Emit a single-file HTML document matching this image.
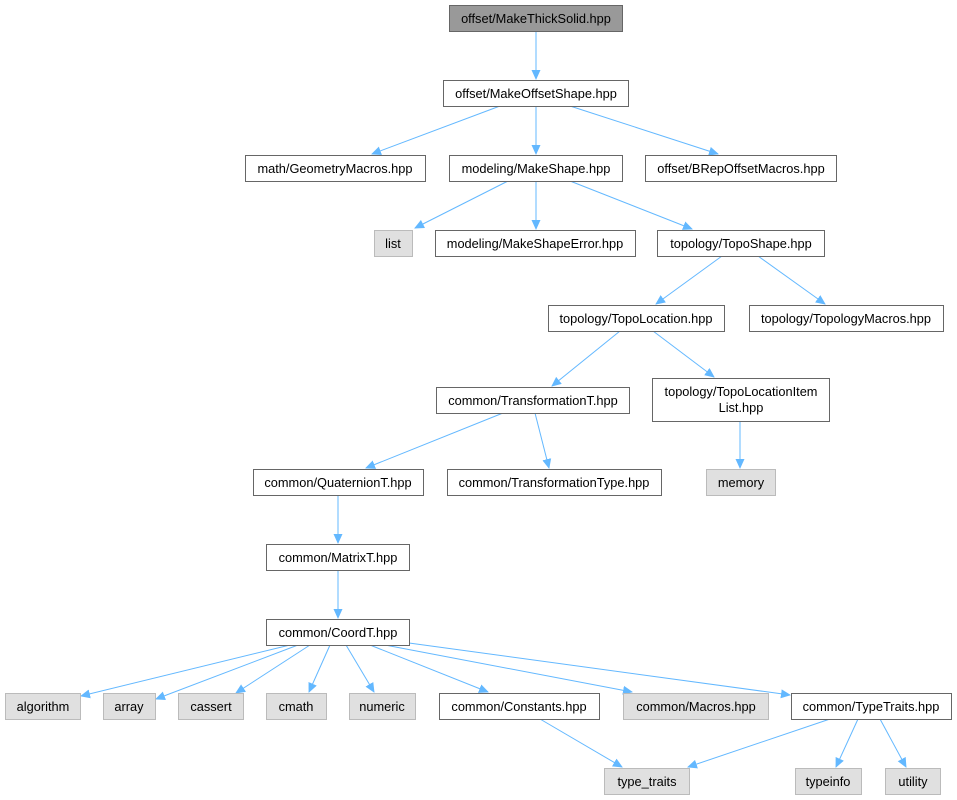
<!DOCTYPE html>
<html><head><meta charset="utf-8"><style>
html,body{margin:0;padding:0;background:#fff;width:957px;height:800px;overflow:hidden}
text{font-family:"Liberation Sans",Arial,sans-serif;font-size:12.8px;fill:#000}
</style></head><body>
<svg width="957" height="800" viewBox="0 0 957 800" xmlns="http://www.w3.org/2000/svg">
<defs><marker id="a" markerWidth="10" markerHeight="10" refX="9" refY="5" orient="auto" markerUnits="userSpaceOnUse"><path d="M0,0.5 L10,5 L0,9.5 z" fill="#63b8ff"/></marker></defs>
<g stroke="#63b8ff" stroke-width="1" fill="none" marker-end="url(#a)">
<line x1="536" y1="31" x2="536" y2="79"/>
<line x1="500" y1="106" x2="372" y2="154"/>
<line x1="536" y1="106" x2="536" y2="154"/>
<line x1="570" y1="106" x2="718" y2="154"/>
<line x1="508" y1="181" x2="415" y2="228"/>
<line x1="536" y1="181" x2="536" y2="229"/>
<line x1="570" y1="181" x2="692" y2="229"/>
<line x1="722" y1="256" x2="656" y2="304"/>
<line x1="758" y1="256" x2="825" y2="304"/>
<line x1="620" y1="331" x2="552" y2="386"/>
<line x1="653" y1="331" x2="714" y2="377"/>
<line x1="503" y1="413" x2="366" y2="468"/>
<line x1="535" y1="413" x2="549" y2="468"/>
<line x1="740" y1="421" x2="740" y2="468"/>
<line x1="338" y1="495" x2="338" y2="543"/>
<line x1="338" y1="570" x2="338" y2="618"/>
<line x1="290" y1="645" x2="81" y2="696"/>
<line x1="298" y1="645" x2="156" y2="699"/>
<line x1="310" y1="645" x2="236" y2="693"/>
<line x1="330" y1="645" x2="309" y2="692"/>
<line x1="346" y1="645" x2="374" y2="692"/>
<line x1="370" y1="645" x2="488" y2="692"/>
<line x1="385" y1="645" x2="632" y2="692"/>
<line x1="409" y1="643" x2="790" y2="695"/>
<line x1="540" y1="719" x2="622" y2="767"/>
<line x1="830" y1="719" x2="688" y2="767"/>
<line x1="858" y1="719" x2="836" y2="767"/>
<line x1="880" y1="719" x2="906" y2="767"/>
</g>
<g stroke-width="1">
<rect x="449.5" y="5.5" width="173" height="26" fill="#999" stroke="#666"/>
<g fill="#fff" stroke="#666">
<rect x="443.5" y="80.5" width="185" height="26"/>
<rect x="245.5" y="155.5" width="180" height="26"/>
<rect x="449.5" y="155.5" width="173" height="26"/>
<rect x="645.5" y="155.5" width="191" height="26"/>
<rect x="435.5" y="230.5" width="200" height="26"/>
<rect x="657.5" y="230.5" width="167" height="26"/>
<rect x="548.5" y="305.5" width="176" height="26"/>
<rect x="749.5" y="305.5" width="194" height="26"/>
<rect x="436.5" y="387.5" width="193" height="26"/>
<rect x="652.5" y="378.5" width="177" height="43"/>
<rect x="253.5" y="469.5" width="170" height="26"/>
<rect x="447.5" y="469.5" width="214" height="26"/>
<rect x="266.5" y="544.5" width="143" height="26"/>
<rect x="266.5" y="619.5" width="143" height="26"/>
<rect x="439.5" y="693.5" width="160" height="26"/>
<rect x="791.5" y="693.5" width="160" height="26"/>
</g>
<g fill="#e0e0e0" stroke="#bbb">
<rect x="374.5" y="230.5" width="38" height="26"/>
<rect x="706.5" y="469.5" width="69" height="26"/>
<rect x="5.5" y="693.5" width="75" height="26"/>
<rect x="103.5" y="693.5" width="52" height="26"/>
<rect x="178.5" y="693.5" width="65" height="26"/>
<rect x="266.5" y="693.5" width="60" height="26"/>
<rect x="349.5" y="693.5" width="66" height="26"/>
<rect x="623.5" y="693.5" width="145" height="26"/>
<rect x="604.5" y="768.5" width="85" height="26"/>
<rect x="795.5" y="768.5" width="66" height="26"/>
<rect x="885.5" y="768.5" width="55" height="26"/>
</g></g>
<g text-anchor="middle">
<text x="536" y="23">offset/MakeThickSolid.hpp</text>
<text x="536" y="98">offset/MakeOffsetShape.hpp</text>
<text x="335" y="173">math/GeometryMacros.hpp</text>
<text x="536" y="173">modeling/MakeShape.hpp</text>
<text x="741" y="173">offset/BRepOffsetMacros.hpp</text>
<text x="393" y="248">list</text>
<text x="535" y="248">modeling/MakeShapeError.hpp</text>
<text x="741" y="248">topology/TopoShape.hpp</text>
<text x="636" y="323">topology/TopoLocation.hpp</text>
<text x="846" y="323">topology/TopologyMacros.hpp</text>
<text x="533" y="405">common/TransformationT.hpp</text>
<text x="741" y="396">topology/TopoLocationItem</text>
<text x="741" y="412">List.hpp</text>
<text x="338" y="487">common/QuaternionT.hpp</text>
<text x="554" y="487">common/TransformationType.hpp</text>
<text x="741" y="487">memory</text>
<text x="338" y="562">common/MatrixT.hpp</text>
<text x="338" y="637">common/CoordT.hpp</text>
<text x="43" y="711">algorithm</text>
<text x="129" y="711">array</text>
<text x="211" y="711">cassert</text>
<text x="296" y="711">cmath</text>
<text x="382" y="711">numeric</text>
<text x="519" y="711">common/Constants.hpp</text>
<text x="696" y="711">common/Macros.hpp</text>
<text x="871" y="711">common/TypeTraits.hpp</text>
<text x="647" y="786">type_traits</text>
<text x="828" y="786">typeinfo</text>
<text x="913" y="786">utility</text>
</g>
</svg>
</body></html>
